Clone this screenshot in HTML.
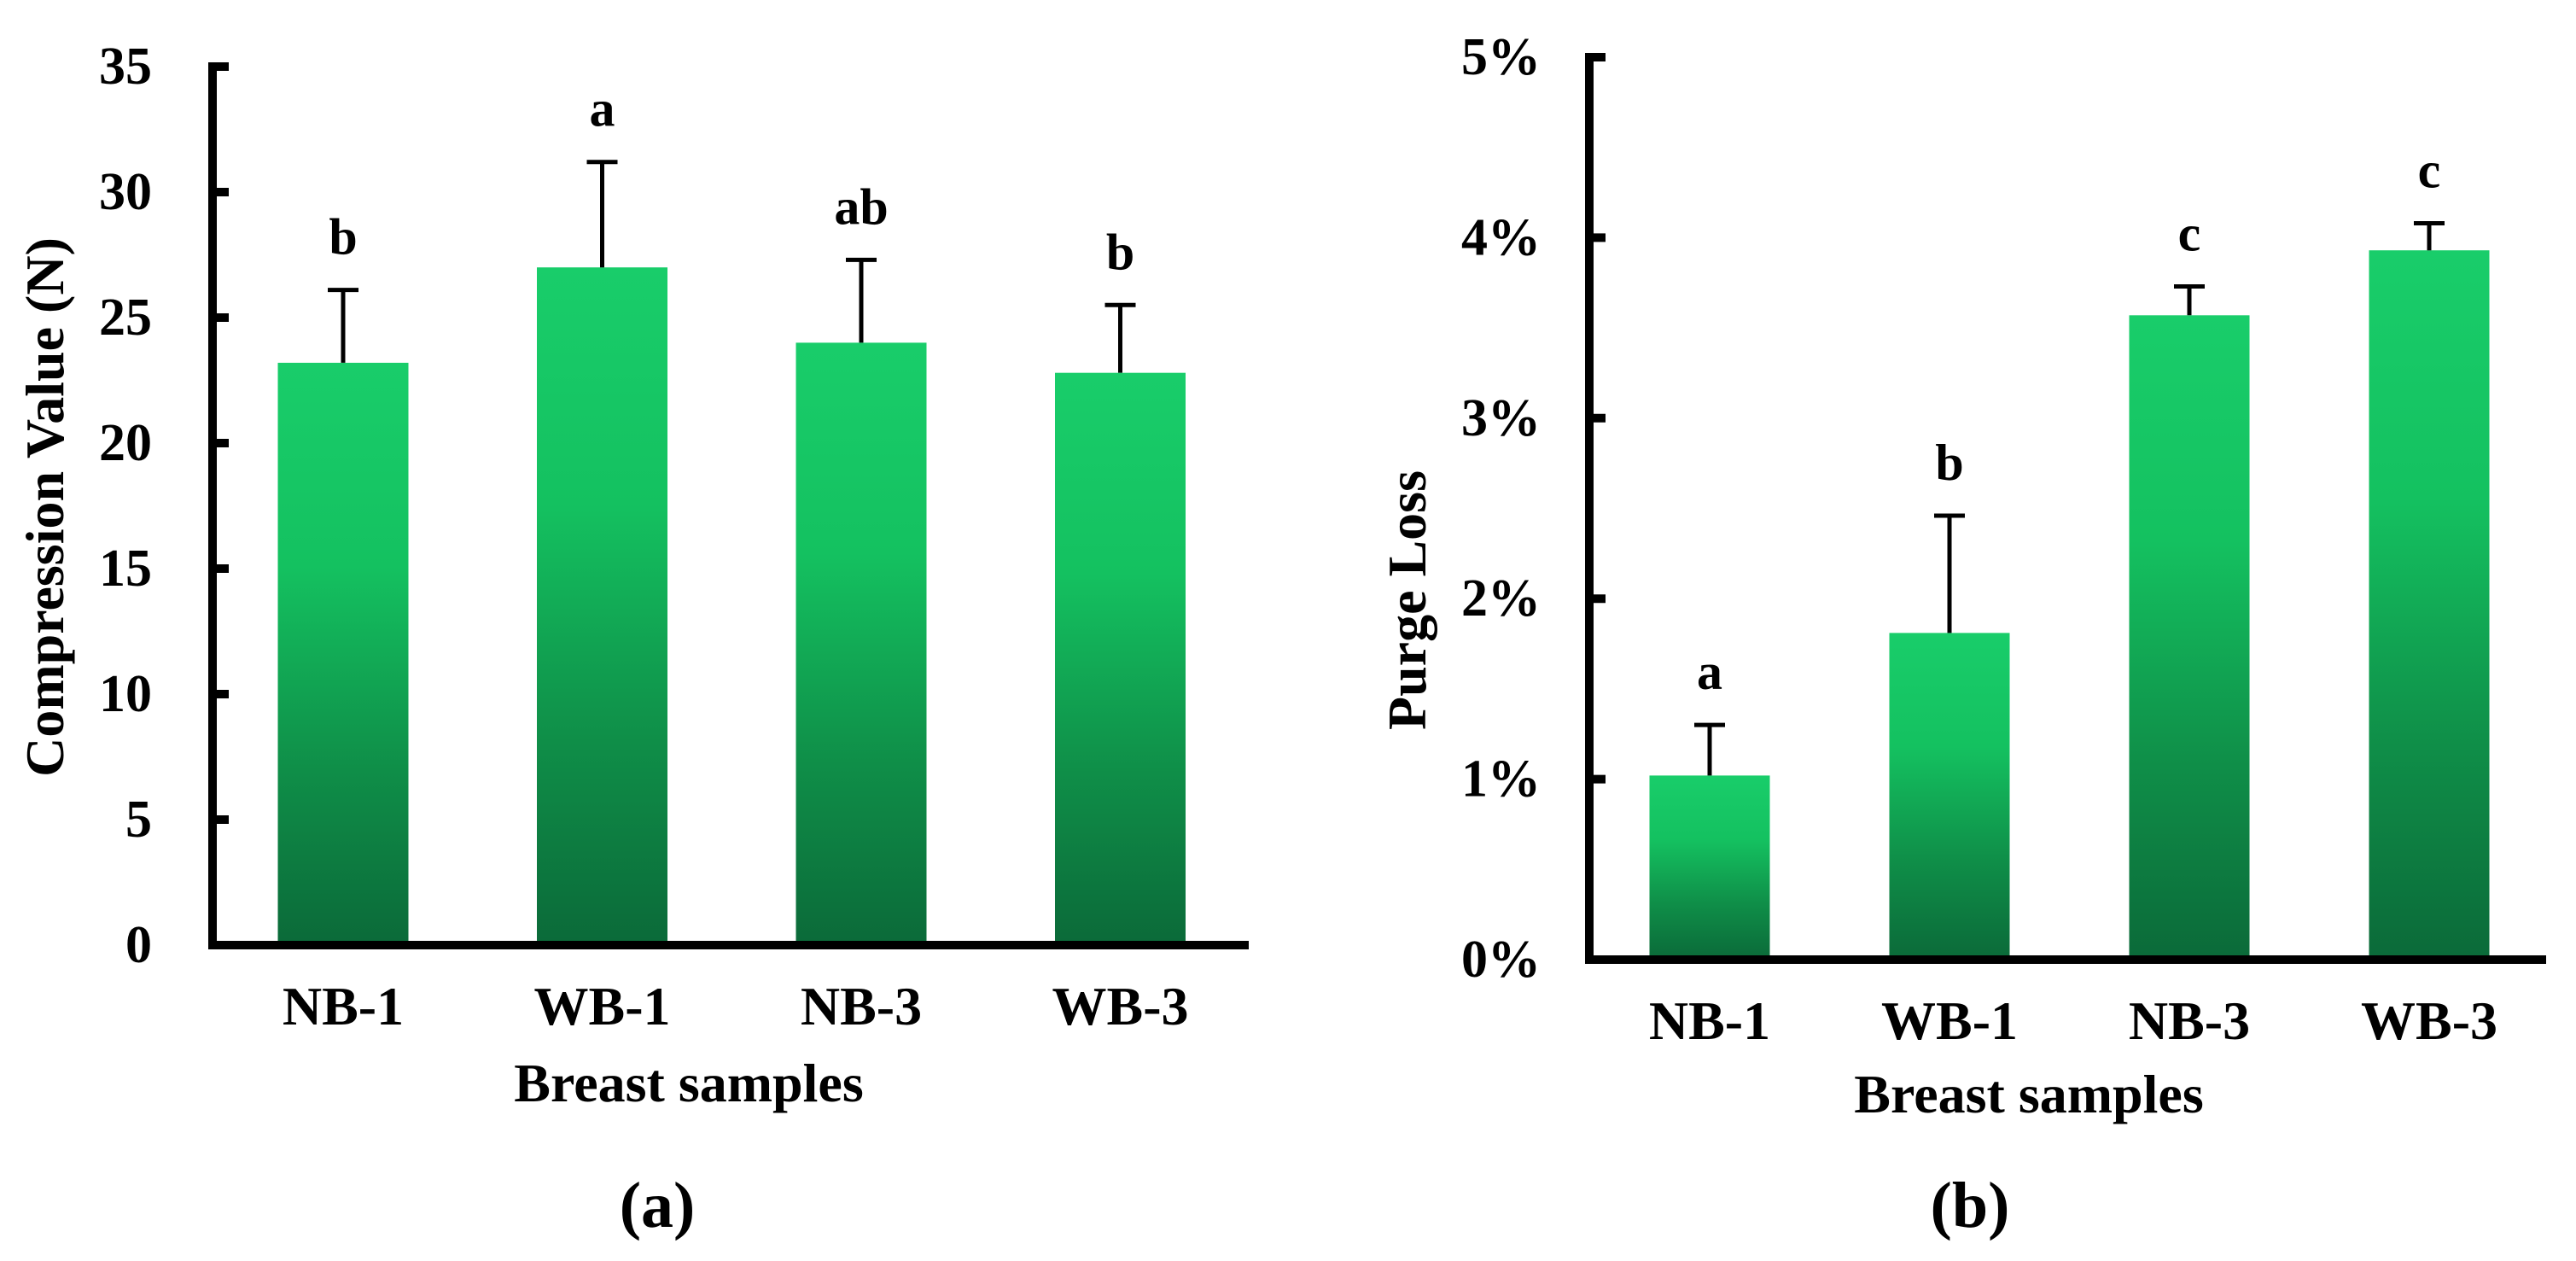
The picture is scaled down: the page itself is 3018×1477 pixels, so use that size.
<!DOCTYPE html>
<html><head><meta charset="utf-8"><style>
html,body{margin:0;padding:0;background:#fff}
svg{display:block}
text{font-family:"Liberation Serif",serif;font-weight:bold;fill:#000}
</style></head><body>
<svg id="fig" width="3018" height="1477" viewBox="0 0 3018 1477" xmlns="http://www.w3.org/2000/svg">
<defs>
<linearGradient id="g" x1="0" y1="0" x2="0" y2="1">
<stop offset="0" stop-color="#19cd6a"/>
<stop offset="0.35" stop-color="#14c160"/>
<stop offset="0.7" stop-color="#0f8e48"/>
<stop offset="1" stop-color="#0b6a39"/>
</linearGradient>
</defs>
</svg>
<script>
const categories = ["NB-1","WB-1","NB-3","WB-3"];
const compValues = [23.2, 27.0, 24.0, 22.8];
const compErr = [2.9, 4.2, 3.3, 2.7];
const compLetters = ["b","a","ab","b"];
const compTicks = [0,5,10,15,20,25,30,35];
const compTickLabels = ["0","5","10","15","20","25","30","35"];
const purgeValues = [1.02, 1.81, 3.57, 3.93];
const purgeErr = [0.28, 0.65, 0.16, 0.15];
const purgeLetters = ["a","b","c","c"];
const purgeTicks = [0,1,2,3,4,5];
const purgeTickLabels = ["0%","1%","2%","3%","4%","5%"];

const svg = document.getElementById('fig');
const NS = 'http://www.w3.org/2000/svg';
function mk(tag, attrs, parent){
  const e = document.createElementNS(NS, tag);
  for (const k in attrs) e.setAttribute(k, attrs[k]);
  (parent||svg).appendChild(e);
  return e;
}
function drawChart(cfg){
  const g = mk('g', {});
  
  
  const y = v => cfg.y0 - (v - cfg.vmin) / (cfg.vmax - cfg.vmin) * (cfg.y0 - cfg.ytop);
  const x = i => cfg.x0 + cfg.step * i;
  cfg.values.forEach((v,i)=>{
    const r = mk('rect', {x: x(i)-cfg.bw/2, y: y(v), width: cfg.bw, height: y(0)-y(v), fill:'url(#g)'}, g);
    
    
    const top = y(v + cfg.err[i]);
    const e = mk('path', {d:`M${x(i)},${y(v)} V${top} M${x(i)-18},${top} H${x(i)+18}`, stroke:'#000', 'stroke-width':5, fill:'none'}, g);
    
    
    const t = mk('text', {x: x(i), y: top - 42, 'text-anchor':'middle', 'font-size':60}, g);
    
    
    t.textContent = cfg.letters[i];
    const c = mk('text', {x: x(i), y: cfg.catY, 'text-anchor':'middle', 'font-size':64}, g);
    
    
    c.textContent = categories[i];
  });
  const ax = mk('path', {d:`M${cfg.ax+5},${y(cfg.vmax)-5} V${y(0)} H${cfg.xend}`, stroke:'#000', 'stroke-width':10, fill:'none'}, g);
  
  
  cfg.ticks.forEach((tv,i)=>{
    const tk = mk('line', {x1: cfg.ax+5, x2: cfg.ax+24, y1: y(tv), y2: y(tv), stroke:'#000', 'stroke-width':10}, g);
    
    
    const tl = mk('text', {x: cfg.labelRight, y: y(tv)+20, 'text-anchor':'end', 'font-size':62}, g);
    
    
    tl.textContent = cfg.tickLabels[i];
  });
  const yt = mk('text', {x:0, y:0, 'text-anchor':'middle', 'font-size':64, transform:`translate(${cfg.ytX},${cfg.ytY}) rotate(-90)`}, g);
  
  
  yt.textContent = cfg.ytitle;
  const xt = mk('text', {x: cfg.xtX, y: cfg.xtY, 'text-anchor':'middle', 'font-size':64}, g);
  
  
  xt.textContent = 'Breast samples';
  const pl = mk('text', {x: cfg.plX, y: 1437, 'text-anchor':'middle', 'font-size':76, 'font-weight':'normal'}, g);
  
  
  pl.innerHTML = '(<tspan font-weight="bold">' + cfg.panel + '</tspan>)';
}
drawChart({name:'compression-chart', values:compValues, err:compErr, letters:compLetters, ticks:compTicks, tickLabels:compTickLabels,
  vmin:0, vmax:35, y0:1107, ytop:78, x0:402, step:303.5, bw:153, ax:244, xend:1463, labelRight:178, catY:1200,
  ytitle:'Compression Value (N)', ytX:74, ytY:594, xtX:807, xtY:1290, plX:770, panel:'a'});
drawChart({name:'purge-loss-chart', values:purgeValues, err:purgeErr, letters:purgeLetters, ticks:purgeTicks, tickLabels:purgeTickLabels,
  vmin:0, vmax:5, y0:1124, ytop:67, x0:2003, step:281, bw:141, ax:1857, xend:2983, labelRight:1805, catY:1217,
  ytitle:'Purge Loss', ytX:1670, ytY:703, xtX:2377, xtY:1303, plX:2308, panel:'b'});
</script>
</body></html>
